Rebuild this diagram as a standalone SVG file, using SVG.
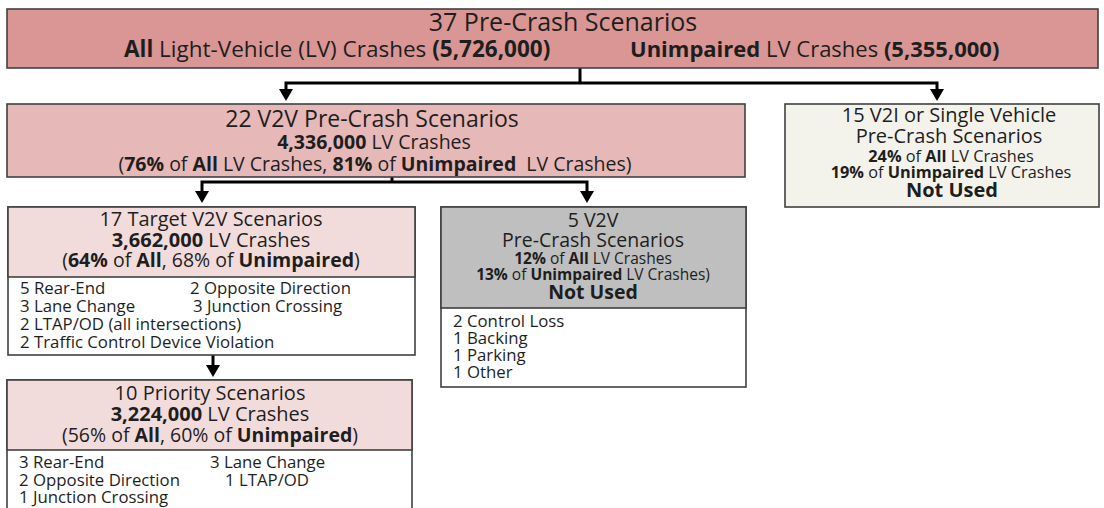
<svg xmlns="http://www.w3.org/2000/svg" width="1104" height="508" viewBox="0 0 1104 508">
<defs>
<style>
text{font-family:"Open Sans","Liberation Sans",sans-serif;fill:#1e1e1e}
.c{text-anchor:middle}
.b{font-weight:700}
.box{stroke:#404040;stroke-width:1.6}
.conn{fill:none;stroke:#000;stroke-width:3}
.l{font-size:16.8px}
</style>
<marker id="ah" viewBox="0 -7 13 14" refX="1" refY="0" markerWidth="13" markerHeight="14" markerUnits="userSpaceOnUse" orient="auto-start-reverse">
<path d="M0,-7 L12,0 L0,7 Z" fill="#000"/>
</marker>
</defs>
<rect width="1104" height="508" fill="#fff"/>

<g id="connectors">
<path class="conn" d="M580,68 V83"/>
<path class="conn" d="M286,90 V83 H937 V90" marker-start="url(#ah)" marker-end="url(#ah)"/>
<path class="conn" d="M392,177 V182"/>
<path class="conn" d="M202,192 V182 H587 V192" marker-start="url(#ah)" marker-end="url(#ah)"/>
<path class="conn" d="M213,355 V366" marker-end="url(#ah)"/>
</g>

<g id="n-all">
<rect class="box" x="7" y="9" width="1091" height="59" fill="#d99694"/>
<text class="c" x="563" y="31" font-size="25">37 Pre-Crash Scenarios</text>
<text x="124" y="57" font-size="22.5"><tspan class="b">All</tspan> Light-Vehicle (LV) Crashes <tspan class="b">(5,726,000)</tspan></text>
<text x="630" y="57" font-size="22"><tspan class="b">Unimpaired</tspan> LV Crashes <tspan class="b">(5,355,000)</tspan></text>
</g>

<g id="n-v2v22">
<rect class="box" x="7" y="104" width="738" height="73" fill="#e6b8b7"/>
<text class="c" x="372" y="127" font-size="23">22 V2V Pre-Crash Scenarios</text>
<text class="c" x="374" y="149" font-size="19.5"><tspan class="b">4,336,000</tspan> LV Crashes</text>
<text class="c" x="375" y="171" font-size="19.5">(<tspan class="b">76%</tspan> of <tspan class="b">All</tspan> LV Crashes, <tspan class="b">81%</tspan> of <tspan class="b">Unimpaired</tspan>&#160; LV Crashes)</text>
</g>

<g id="n-v2i">
<rect class="box" x="785" y="104" width="314" height="103" fill="#f3f3ec"/>
<text class="c" x="949" y="122" font-size="20">15 V2I or Single Vehicle</text>
<text class="c" x="949" y="143" font-size="20">Pre-Crash Scenarios</text>
<text class="c" x="951" y="162" font-size="16.3"><tspan class="b">24%</tspan> of <tspan class="b">All</tspan> LV Crashes</text>
<text class="c" x="951" y="178" font-size="16.3"><tspan class="b">19%</tspan> of <tspan class="b">Unimpaired</tspan> LV Crashes</text>
<text class="c b" x="952" y="197" font-size="20">Not Used</text>
</g>

<g id="n-target17">
<rect class="box" x="8" y="207" width="407" height="148" fill="#fff"/>
<rect class="box" x="8" y="207" width="407" height="70" fill="#f2dcdb"/>
<text class="c" x="211" y="226" font-size="20">17 Target V2V Scenarios</text>
<text class="c" x="211" y="247" font-size="20"><tspan class="b">3,662,000</tspan> LV Crashes</text>
<text class="c" x="211" y="267" font-size="19.5">(<tspan class="b">64%</tspan> of <tspan class="b">All</tspan>, 68% of <tspan class="b">Unimpaired</tspan>)</text>
<text class="l" x="20" y="294">5 Rear-End</text>
<text class="l" x="190" y="294">2 Opposite Direction</text>
<text class="l" x="20" y="312">3 Lane Change</text>
<text class="l" x="193" y="312">3 Junction Crossing</text>
<text class="l" x="20" y="330">2 LTAP/OD (all intersections)</text>
<text class="l" x="20" y="348">2 Traffic Control Device Violation</text>
</g>

<g id="n-v2v5">
<rect class="box" x="441" y="207" width="305" height="180" fill="#fff"/>
<rect class="box" x="441" y="207" width="305" height="101" fill="#bfbfbf"/>
<text class="c" x="593" y="227" font-size="19.5">5 V2V</text>
<text class="c" x="593" y="247" font-size="19.5">Pre-Crash Scenarios</text>
<text class="c" x="593" y="264" font-size="15.5"><tspan class="b">12%</tspan> of <tspan class="b">All</tspan> LV Crashes</text>
<text class="c" x="593" y="280" font-size="15.5"><tspan class="b">13%</tspan> of <tspan class="b">Unimpaired</tspan> LV Crashes)</text>
<text class="c b" x="593" y="299" font-size="19.5">Not Used</text>
<text class="l" x="453" y="327">2 Control Loss</text>
<text class="l" x="453" y="344">1 Backing</text>
<text class="l" x="453" y="361">1 Parking</text>
<text class="l" x="453" y="378">1 Other</text>
</g>

<g id="n-priority10">
<rect class="box" x="7" y="380" width="405" height="140" fill="#fff"/>
<rect class="box" x="7" y="380" width="405" height="70" fill="#f2dcdb"/>
<text class="c" x="210" y="400" font-size="20">10 Priority Scenarios</text>
<text class="c" x="210" y="421" font-size="20"><tspan class="b">3,224,000</tspan> LV Crashes</text>
<text class="c" x="210" y="442" font-size="19.5">(56% of <tspan class="b">All</tspan>, 60% of <tspan class="b">Unimpaired</tspan>)</text>
<text class="l" x="19" y="468">3 Rear-End</text>
<text class="l" x="210" y="468">3 Lane Change</text>
<text class="l" x="19" y="486">2 Opposite Direction</text>
<text class="l" x="225" y="486">1 LTAP/OD</text>
<text class="l" x="19" y="503">1 Junction Crossing</text>
</g>
</svg>
